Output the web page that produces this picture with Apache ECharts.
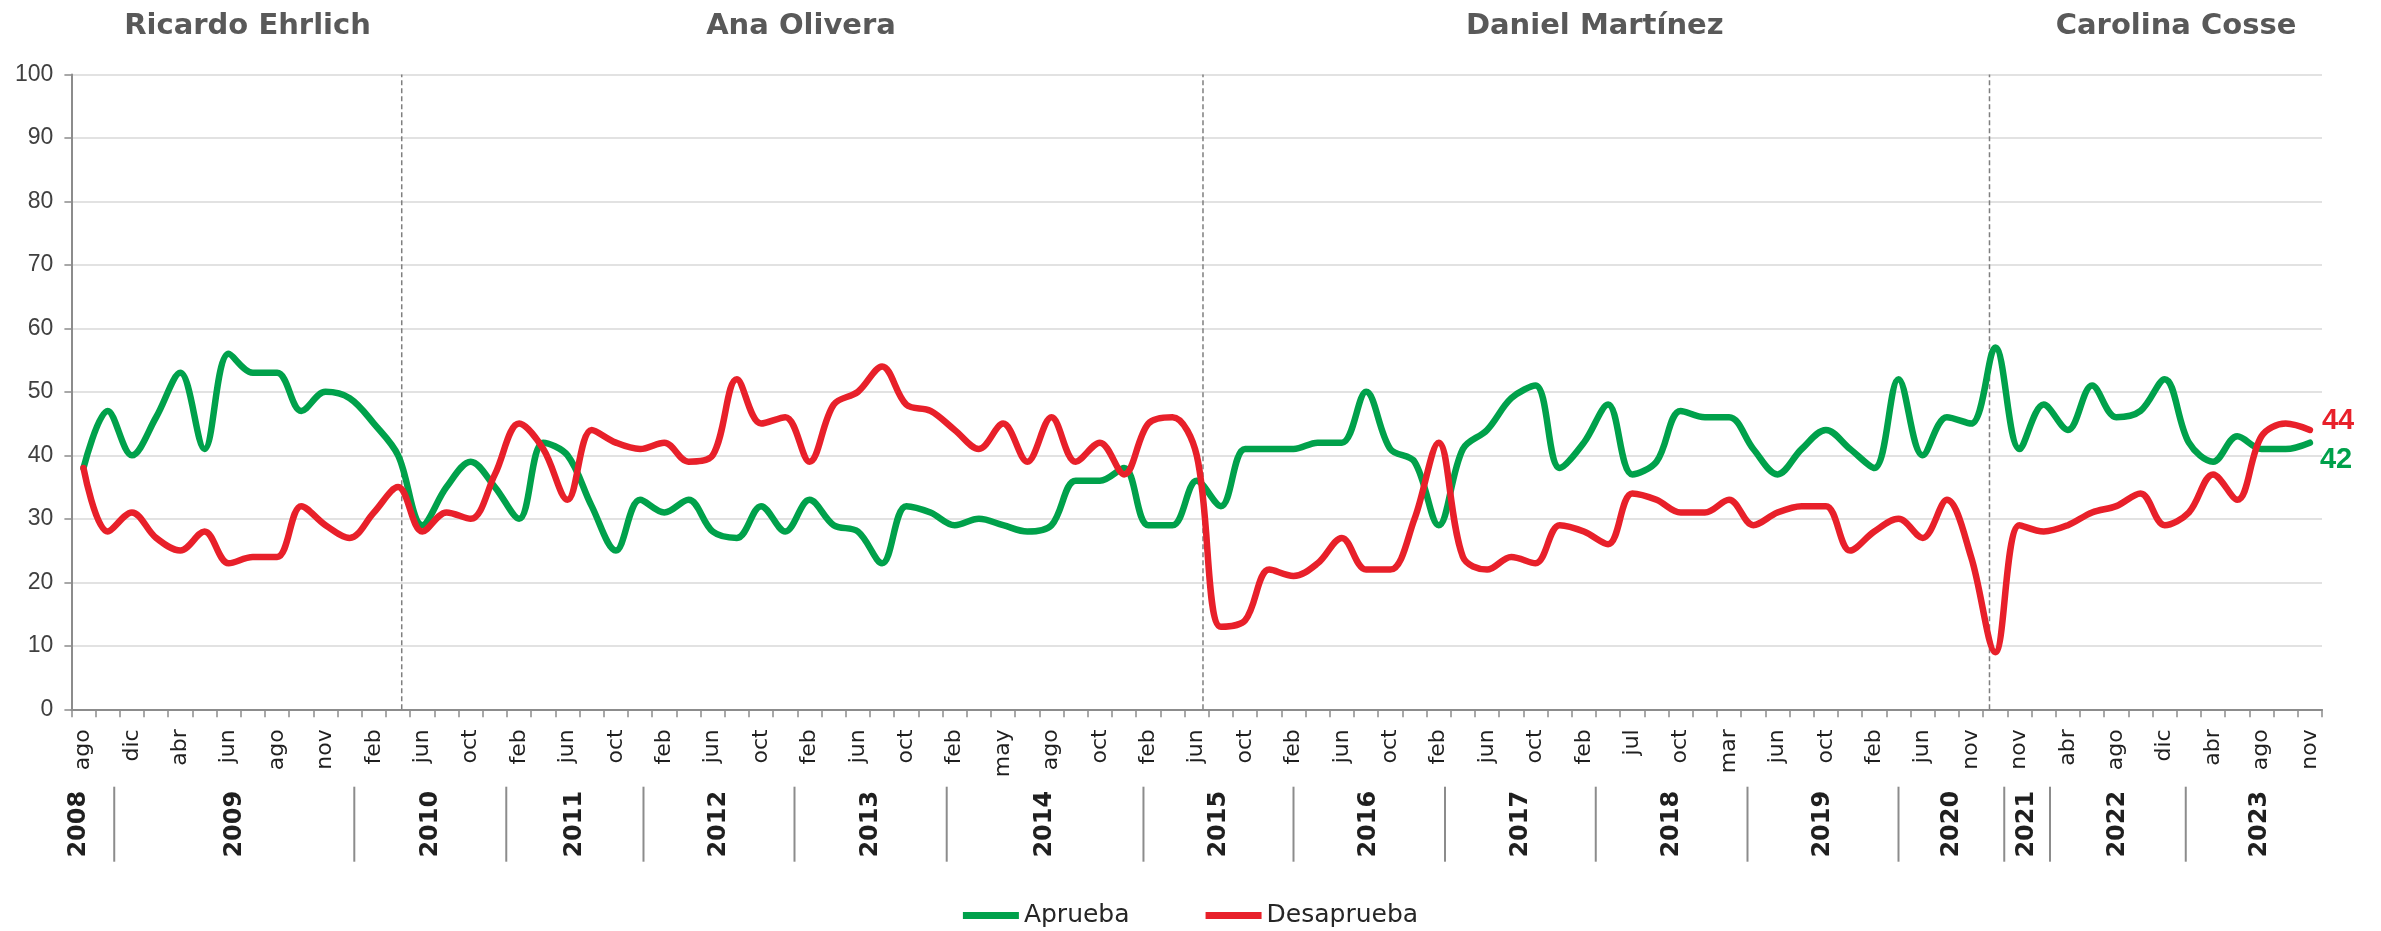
<!DOCTYPE html>
<html><head><meta charset="utf-8">
<script src="https://cdn.jsdelivr.net/npm/echarts/dist/echarts.min.js"></script>
<style>html,body{margin:0;padding:0;background:#fff}#c{width:2381px;height:931px}</style>
</head><body><div id="c"></div>
<script>
// Month labels shown on every other category (unlabelled survey points in between)
const monthLabels = ['ago','dic','abr','jun','ago','nov','feb','jun','oct','feb','jun','oct','feb','jun','oct','feb','jun','oct','feb','may','ago','oct','feb','jun','oct','feb','jun','oct','feb','jun','oct','feb','jul','oct','mar','jun','oct','feb','jun','nov','nov','abr','ago','dic','abr','ago','nov'];
const aprueba = [38,47,40,46,53,41,56,53,53,47, 50,49,45,40,29,35,39,35,30,42, 40,32,25,33,31,33,28,27,32,28, 33,29,28,23,32,31,29,30,29,28, 29,36,36,38,29,29,36,32,41,41, 41,42,42,50,41,39,29,41,44,49, 51,38,42,48,37,39,47,46,46,41, 37,41,44,41,38,52,40,46,45,57, 41,48,44,51,46,47,52,42,39,43, 41,41,42];
const desaprueba = [38,28,31,27,25,28,23,24,24,32, 29,27,31,35,28,31,30,37,45,41, 33,44,42,41,42,39,40,52,45,46, 39,48,50,54,48,47,44,41,45,39, 46,39,42,37,45,46,40,13,14,22, 21,23,27,22,22,30,42,24,22,24, 23,29,28,26,34,33,31,31,33,29, 31,32,32,25,28,30,27,33,24,9, 29,28,29,31,32,34,29,31,37,33, 43,45,44];
const yearNames = ['2008','2009','2010','2011','2012','2013','2014','2015','2016','2017','2018','2019','2020','2021','2022','2023'];
const yearEdges = [-1.2,1.77,11.69,17.97,23.64,29.88,36.17,44.30,50.50,56.76,62.99,69.26,75.50,79.87,81.76,87.37,93.5];
const mayorNames = ['Ricardo Ehrlich','Ana Olivera','Daniel Martínez','Carolina Cosse'];
const mayorCenters = [7.28,30.15,62.95,86.97];
const mayorStarts = [13.65,46.76,79.26];
const yTicks = {min:0, max:100, interval:10};

const categories = [];
monthLabels.forEach((m,i)=>{ categories.push(m); if(i<monthLabels.length-1) categories.push(''); });
const N = categories.length;

const GREEN = '#00A14B', RED = '#E8202A';
const chart = echarts.init(document.getElementById('c'), null, {renderer:'canvas', width:2381, height:931});
const L = 71.4, R = 2381-2322, T = 74.4, B = 931-709.3;

const option = {
  animation:false,
  backgroundColor:'#fff',
  grid:[
    {left:L, right:R, top:T, bottom:B, containLabel:false, outerBoundsMode:'none'},
    {left:L, right:R, top:786.7, height:75, containLabel:false, outerBoundsMode:'none'}
  ],
  legend:{
    left:'center', top:898, icon:'rect', itemWidth:56, itemHeight:7, itemGap:76,
    textStyle:{fontFamily:'DejaVu Sans', fontSize:25, color:'#262626'},
    data:['Aprueba','Desaprueba']
  },
  xAxis:[
    {type:'category', gridIndex:0, data:categories, boundaryGap:true,
     axisLine:{show:true, lineStyle:{color:'#8c8c8c', width:2}},
     axisTick:{show:true, interval:0, length:8, lineStyle:{color:'#8c8c8c', width:1.5}},
     axisLabel:{interval:0, rotate:90, margin:20, fontFamily:'DejaVu Sans', fontSize:22, color:'#1f1f1f'},
     splitLine:{show:false}},
    {type:'value', gridIndex:0, min:0, max:N, show:false},
    {type:'value', gridIndex:1, min:0, max:N, show:false}
  ],
  yAxis:[
    {type:'value', gridIndex:0, min:yTicks.min, max:yTicks.max, interval:yTicks.interval,
     axisLine:{show:true, lineStyle:{color:'#8c8c8c', width:2}},
     axisTick:{show:true, length:7, lineStyle:{color:'#8c8c8c', width:1.5}},
     axisLabel:{fontFamily:'Liberation Sans', fontSize:23, color:'#404040', margin:18},
     splitLine:{show:true, lineStyle:{color:'#d9d9d9', width:1.5}}},
    {type:'value', gridIndex:1, min:0, max:1, show:false}
  ],
  series:[
    {type:'custom', name:'periodos', xAxisIndex:1, yAxisIndex:0, z:1, silent:true, clip:false,
     data: mayorStarts.map(v=>[v,0]),
     renderItem:(params, api)=>{
       const x = api.value(0);
       const p0 = api.coord([x,0]), p1 = api.coord([x,100]);
       return {type:'line', shape:{x1:p0[0], y1:p0[1], x2:p1[0], y2:p1[1]},
               style:{stroke:'#7f7f7f', lineWidth:1.5, lineDash:[5,3]}};
     }},
    {type:'custom', name:'intendentes', xAxisIndex:1, yAxisIndex:0, z:1, silent:true, clip:false,
     data: mayorCenters.map((v,i)=>[v,100,i]),
     renderItem:(params, api)=>{
       const p = api.coord([api.value(0),100]);
       return {type:'text', x:p[0], y:p[1]-48,
               style:{text:mayorNames[api.value(2)], fill:'#595959', font:'bold 29px "DejaVu Sans"', align:'center', verticalAlign:'middle'}};
     }},
    {type:'custom', name:'años', xAxisIndex:2, yAxisIndex:1, z:1, silent:true, clip:false,
     data: yearNames.map((n,i)=>[(yearEdges[i]+yearEdges[i+1])/2, 0.5, i]),
     renderItem:(params, api)=>{
       const i = api.value(2);
       const c = api.coord([api.value(0),0.5]);
       const children = [{type:'text', x:c[0], y:c[1], rotation:Math.PI/2,
         style:{text:yearNames[i], fill:'#1f1f1f', font:'bold 24px "DejaVu Sans"', align:'center', verticalAlign:'middle'}}];
       if(i < yearNames.length-1){
         const a = api.coord([yearEdges[i+1],0]), b = api.coord([yearEdges[i+1],1]);
         children.push({type:'line', shape:{x1:a[0], y1:a[1], x2:b[0], y2:b[1]}, style:{stroke:'#8c8c8c', lineWidth:2}});
       }
       return {type:'group', children};
     }},
    {type:'line', name:'Aprueba', xAxisIndex:0, yAxisIndex:0, data:aprueba, smooth:0.35, symbol:'none', z:3,
     itemStyle:{color:GREEN},
     lineStyle:{color:GREEN, width:6.5, cap:'round', join:'round'},
     endLabel:{show:true, formatter:'{c}', color:GREEN, fontFamily:'Liberation Sans', fontWeight:'bold', fontSize:29, distance:10, offset:[0,17]}},
    {type:'line', name:'Desaprueba', xAxisIndex:0, yAxisIndex:0, data:desaprueba, smooth:0.35, symbol:'none', z:4,
     itemStyle:{color:RED},
     lineStyle:{color:RED, width:6.5, cap:'round', join:'round'},
     endLabel:{show:true, formatter:'{c}', color:RED, fontFamily:'Liberation Sans', fontWeight:'bold', fontSize:29, distance:12, offset:[0,-9]}}
  ]
};
chart.setOption(option);
</script>
</body></html>
